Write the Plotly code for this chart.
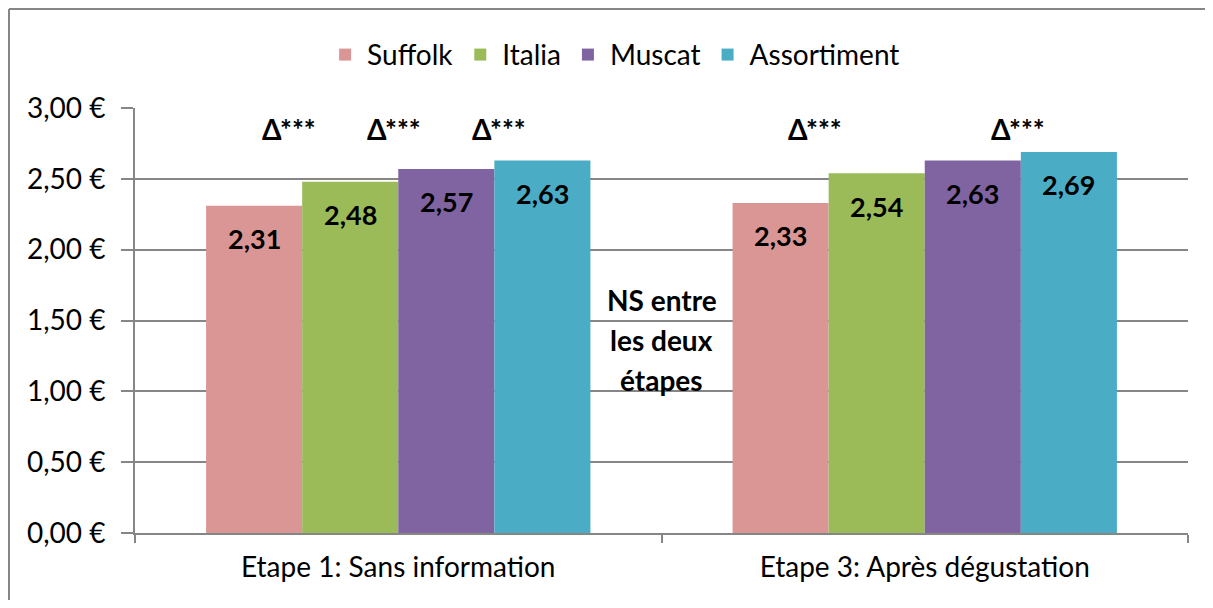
import plotly.graph_objects as go

categories = ["Etape 1: Sans information", "Etape 3: Après dégustation"]
series_names = ["Suffolk", "Italia", "Muscat", "Assortiment"]
suffolk = [2.31, 2.33]
italia = [2.48, 2.54]
muscat = [2.57, 2.63]
assortiment = [2.63, 2.69]
colors = ["#D99694", "#9BBB59", "#8064A2", "#4BACC6"]

# significance marks: (category index, position in bar widths from group start)
signif_marks = [(0, 0.86), (0, 1.96), (0, 3.05), (1, 0.86), (1, 2.97)]
signif_text = "Δ***"
middle_note = ["NS entre", "les deux", "étapes"]

FONT = "Lato, 'Open Sans', sans-serif"
BARGAP = 0.27
bar_w = (1 - BARGAP) / len(series_names)

fig = go.Figure()
all_vals = [suffolk, italia, muscat, assortiment]
for name, vals, col in zip(series_names, all_vals, colors):
    fig.add_trace(go.Bar(
        x=categories, y=vals, name=name,
        marker=dict(color=col, line=dict(width=0)),
    ))

# value labels inside the top of each bar
for i, vals in enumerate(all_vals):
    for cat, v in enumerate(vals):
        fig.add_annotation(
            x=cat - (1 - BARGAP) / 2 + bar_w * (i + 0.5), y=v, xref="x", yref="y",
            text=f"{v:.2f}".replace(".", ","), showarrow=False, yshift=-33,
            font=dict(family=FONT, size=27, color="black", weight="bold"))

for cat, pos in signif_marks:
    fig.add_annotation(x=cat - (1 - BARGAP) / 2 + bar_w * pos, y=2.85,
                       xref="x", yref="y", text=signif_text, showarrow=False,
                       font=dict(family=FONT, size=28, color="black", weight="bold"))

# centre note, one line per annotation
for line, yv in zip(middle_note, [1.645, 1.362, 1.08]):
    fig.add_annotation(x=0.5, y=yv, xref="x", yref="y", text=line, showarrow=False,
                       font=dict(family=FONT, size=28, color="black", weight="bold"))

# page body has an 8px margin, so keep the figure inside the window
W, H = 1197, 592
ML, MR, MT, MB = 127, 17, 100, 67
fig.update_layout(
    width=W, height=H,
    margin=dict(l=ML, r=MR, t=MT, b=MB),
    barmode="group", bargap=BARGAP, bargroupgap=0,
    separators=", ",
    paper_bgcolor="white", plot_bgcolor="white",
    font=dict(family=FONT, size=28, color="black"),
    legend=dict(orientation="h", x=0.455, xanchor="center", y=1.125, yanchor="middle",
                font=dict(size=28), itemwidth=34, traceorder="normal"),
)

fig.update_yaxes(
    range=[0, 3], dtick=0.5, tickformat=".2f", ticksuffix=" €",
    showgrid=True, gridcolor="#868686", gridwidth=2,
    showline=True, linecolor="#868686", linewidth=2,
    ticks="outside", ticklen=12, tickcolor="#868686", tickwidth=2,
    ticklabelstandoff=10,
    zeroline=False,
    tickfont=dict(size=28),
)
fig.update_xaxes(
    showline=True, linecolor="#868686", linewidth=2,
    ticks="outside", tickson="boundaries", ticklen=8, tickcolor="#868686", tickwidth=2,
    ticklabelstandoff=8,
    tickfont=dict(size=28),
)

# outer chart border: only its top and left edges show in the picture
pw, ph = W - ML - MR, H - MT - MB
left_x = (1 - ML) / pw
top_y = 1 + (MT - 1) / ph
fig.add_shape(type="line", xref="paper", yref="paper",
              x0=left_x, x1=left_x, y0=-MB / ph, y1=top_y,
              line=dict(color="#868686", width=2), layer="below")
fig.add_shape(type="line", xref="paper", yref="paper",
              x0=left_x, x1=1 + MR / pw, y0=top_y, y1=top_y,
              line=dict(color="#868686", width=2), layer="below")

fig.write_html("out.html")
